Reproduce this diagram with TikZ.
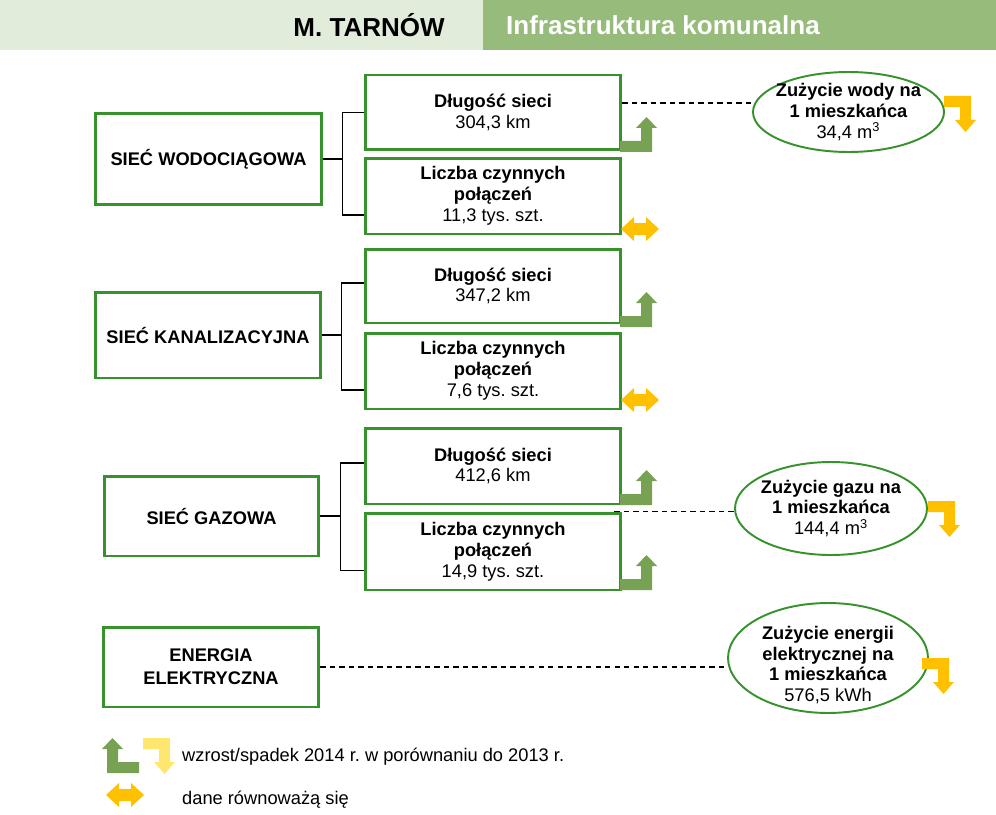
\documentclass[tikz,border=0pt]{standalone}
\usepackage{fontspec}
\setmainfont{Liberation Sans}
\usetikzlibrary{positioning, shapes.geometric}
\frenchspacing

\definecolor{boxgreen}{RGB}{55,145,45}
\definecolor{arrgreen}{RGB}{119,161,83}
\definecolor{arryel}{RGB}{255,192,0}
\definecolor{arrlight}{RGB}{255,230,110}
\definecolor{hdrlight}{RGB}{226,236,219}
\definecolor{hdrdark}{RGB}{151,187,122}

\begin{document}
\begin{tikzpicture}[x=0.02cm, y=-0.02cm,
    txt/.style={font=\fontsize{10.4}{11.9}\selectfont},
    box/.style={txt, draw=boxgreen, line width=1.7pt, fill=white, align=center, inner sep=0pt},
    rbox/.style={box, minimum width=5.12cm},
    elly/.style={ellipse, draw=boxgreen, line width=1.1pt, inner sep=0pt},
    bracket/.style={line width=0.9pt},
    dashline/.style={line width=1.1pt, dash pattern=on 3pt off 2.4pt},
    hdr/.style={font=\fontsize{14.8}{16}\selectfont\bfseries},
    upar/.pic={\path[pic actions] (0,0) -- (32,0) -- (32,-24) -- (37,-24) -- (26.5,-35)
        -- (16,-24) -- (21,-24) -- (21,-11) -- (0,-11) -- cycle;},
    downar/.pic={\path[pic actions] (0,0) -- (27,0) -- (27,24) -- (32,24) -- (21.5,36)
        -- (11,24) -- (16,24) -- (16,11) -- (0,11) -- cycle;},
    dblar/.pic={\path[pic actions] (-19,0) -- (-6,-12) -- (-6,-6) -- (6,-6) -- (6,-12)
        -- (19,0) -- (6,12) -- (6,6) -- (-6,6) -- (-6,12) -- cycle;}
]
    \useasboundingbox (0,0) rectangle (996,814);

    % Header
    \fill[hdrlight] (0,0) rectangle (483,50);
    \fill[hdrdark] (483,0) rectangle (996,50);
    \node[hdr] (city) at (369,25) {M. TARNÓW};
    \node[hdr, white, anchor=west] (topic) at (500,25) {Infrastruktura komunalna};

    % Left boxes
    \node[box, minimum width=4.54cm, minimum height=1.84cm] (wod) at (208.5,159) {\textbf{SIEĆ WODOCIĄGOWA}};
    \node[box, minimum width=4.52cm, minimum height=1.72cm] (kan) at (208,335) {\textbf{SIEĆ KANALIZACYJNA}};
    \node[box, minimum width=4.30cm, minimum height=1.60cm] (gaz) at (211.5,516) {\textbf{SIEĆ GAZOWA}};
    \node[box, minimum width=4.32cm, minimum height=1.60cm, font=\fontsize{10.4}{13}\selectfont] (ene) at (211,667) {\textbf{ENERGIA}\\\textbf{ELEKTRYCZNA}};

    % Right boxes
    \node[rbox, minimum height=1.50cm] (wdl) at (493,112.5) {\textbf{Długość sieci}\\304,3 km};
    \node[rbox, minimum height=1.52cm] (wlc) at (493,196) {\textbf{Liczba czynnych}\\\textbf{połączeń}\\11,3 tys. szt.};
    \node[rbox, minimum height=1.48cm] (kdl) at (493,286) {\textbf{Długość sieci}\\347,2 km};
    \node[rbox, minimum height=1.52cm] (klc) at (493,371) {\textbf{Liczba czynnych}\\\textbf{połączeń}\\7,6 tys. szt.};
    \node[rbox, minimum height=1.52cm] (gdl) at (493,466) {\textbf{Długość sieci}\\412,6 km};
    \node[rbox, minimum height=1.54cm] (glc) at (493,551.5) {\textbf{Liczba czynnych}\\\textbf{połączeń}\\14,9 tys. szt.};

    % Brackets
    \draw[bracket] (wod.east) -- ++(19,0) coordinate (wodb);
    \draw[bracket] (wdl.west) -| (wodb) |- ([yshift=-0.38cm]wlc.west);
    \draw[bracket] (kan.east) -- ++(19,0) coordinate (kanb);
    \draw[bracket] ([yshift=0.06cm]kdl.west) -| (kanb) |- ([yshift=-0.38cm]klc.west);
    \draw[bracket] (gaz.east) -- ++(20,0) coordinate (gazb);
    \draw[bracket] ([yshift=0.06cm]gdl.west) -| (gazb) |- ([yshift=-0.38cm]glc.west);

    % Consumption per inhabitant
    \node[elly, minimum width=3.82cm, minimum height=1.60cm] (wat) at (848.5,112) {};
    \node[txt, align=center] (wattxt) at (wat) {\textbf{Zużycie wody na}\\\textbf{1 mieszkańca}\\34,4 m\textsuperscript{3}};
    \node[elly, minimum width=3.84cm, minimum height=1.86cm] (gas) at (831,508.5) {};
    \node[txt, align=center] (gastxt) at (gas) {\textbf{Zużycie gazu na}\\\textbf{1 mieszkańca}\\144,4 m\textsuperscript{3}};
    \node[elly, minimum width=4.00cm, minimum height=2.20cm] (pow) at (828,658) {};
    \node[txt, align=center] (powtxt) at (828,665) {\textbf{Zużycie energii}\\\textbf{elektrycznej na}\\\textbf{1 mieszkańca}\\576,5 kWh};

    % Dashed links
    \draw[dashline] ([yshift=0.19cm]wdl.east) -- ([yshift=0.19cm]wdl.east -| wat.west);
    \draw[dashline] ([xshift=-0.16cm]glc.north east) -- (glc.north east -| gas.west);
    \draw[dashline] (ene.east) -- (ene.east -| pow.west);

    % Trend arrows
    \pic[fill=arrgreen] at (620,152) {upar};
    \pic[fill=arrgreen] at (620,327) {upar};
    \pic[fill=arrgreen] at (620,505) {upar};
    \pic[fill=arrgreen] at (620,590) {upar};
    \pic[fill=arryel] at (640,229) {dblar};
    \pic[fill=arryel] at (640,400) {dblar};
    \pic[fill=arryel] at (944,96) {downar};
    \pic[fill=arryel] at (928,501) {downar};
    \pic[fill=arryel] at (922,658) {downar};

    % Legend
    \pic[fill=arrgreen, xscale=-1] at (139,773) {upar};
    \pic[fill=arrlight] at (143,738) {downar};
    \pic[fill=arryel] at (125,795) {dblar};
    \node[txt, anchor=west] (leg1) at (176,757) {wzrost/spadek 2014 r. w porównaniu do 2013 r.};
    \node[txt, anchor=west] (leg2) at (176,800) {dane równoważą się};
\end{tikzpicture}
\end{document}
